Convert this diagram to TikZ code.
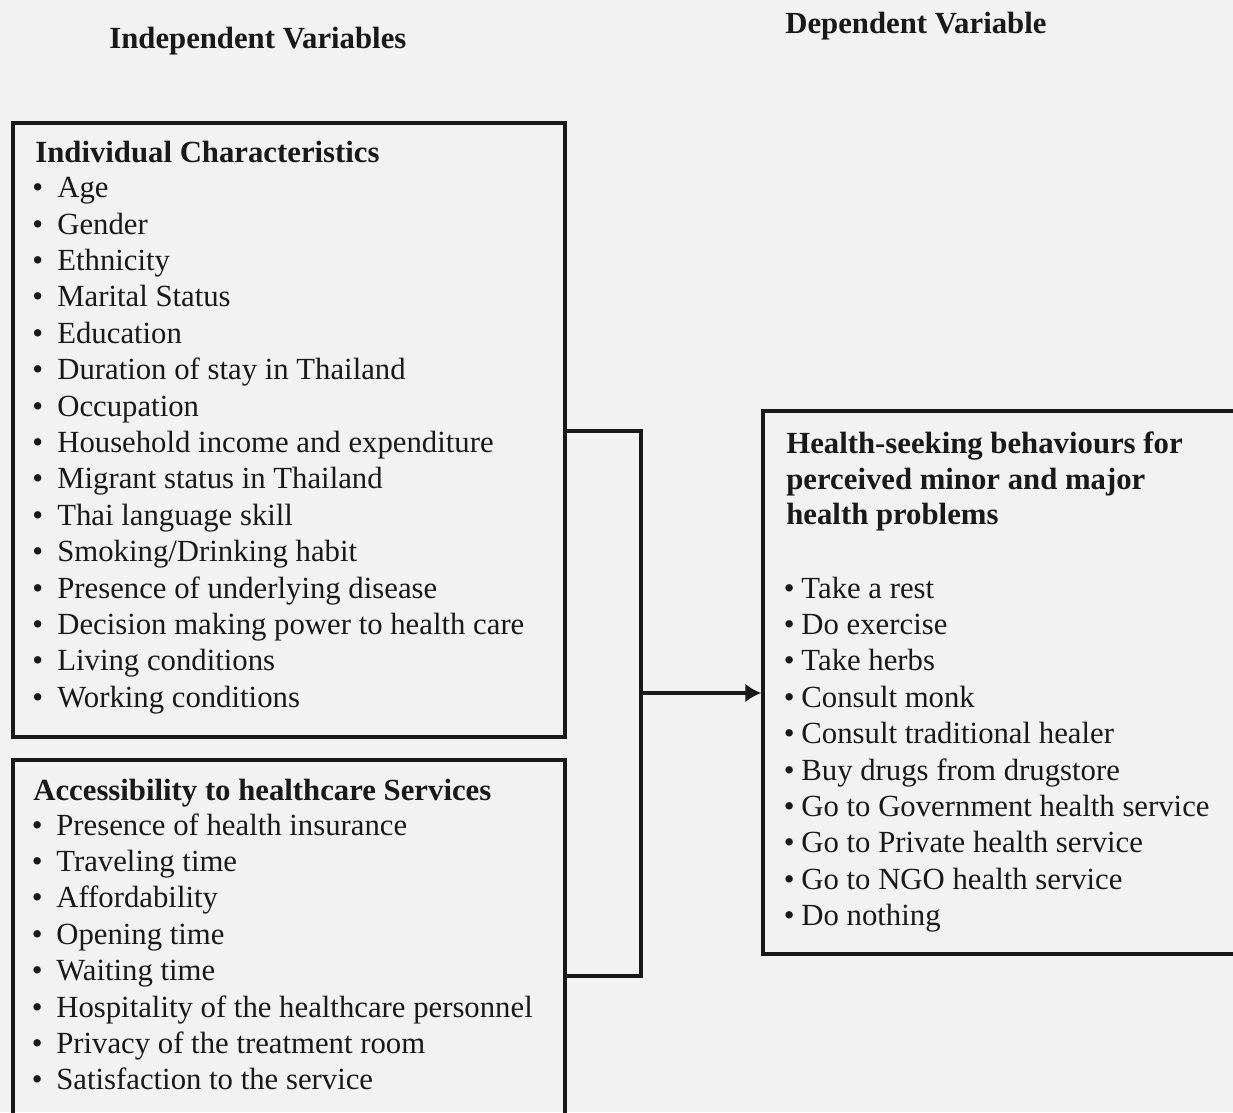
\documentclass[tikz,border=0pt]{standalone}
\usepackage{fontspec}
\setmainfont{Liberation Serif}
\usetikzlibrary{positioning,fit,arrows.meta}

\newcommand\itembul[1][0.5cm]{\makebox[#1][l]{\textbullet}}

\tikzset{
    box/.style={draw=black!90,line width=2pt,inner sep=0pt},
    wire/.style={draw=black!90,line width=2pt},
    txt/.style={inner sep=0pt,anchor=base west,text=black!90,font=\fontsize{17.5}{21}\selectfont},
    head/.style={txt,font=\fontsize{17.5}{21}\selectfont\bfseries}
}

\begin{document}
\begin{tikzpicture}[x=0.02cm,y=-0.02cm]
    \path[use as bounding box,fill=black!5] (0,0) rectangle (1233,1112);
    \clip (0,0) rectangle (1233,1112);

    \node[head] (indep) at (109,48) {Independent Variables};
    \node[head] (dep) at (785,33) {Dependent Variable};

    \node[box,fit={(13,123) (565,737)}] (indiv) {};
    \node[box,fit={(13,760) (565,1140)}] (access) {};
    \node[box,fit={(763,411) (1250,954)}] (hsb) {};

    \node[head] (indiv-h) at (35,162.7) {Individual Characteristics};
    \foreach \t [count=\i] in {Age,Gender,Ethnicity,Marital Status,Education,
        Duration of stay in Thailand,Occupation,Household income and expenditure,
        Migrant status in Thailand,Thai language skill,Smoking/Drinking habit,
        Presence of underlying disease,Decision making power to health care,
        Living conditions,Working conditions} {
        \node[txt] (indiv-\i) at (32,{197.7+36.4*(\i-1)}) {\itembul\t};
    }

    \node[head] (access-h) at (33,800) {Accessibility to healthcare Services};
    \foreach \t [count=\i] in {Presence of health insurance,Traveling time,
        Affordability,Opening time,Waiting time,Hospitality of the healthcare personnel,
        Privacy of the treatment room,Satisfaction to the service} {
        \node[txt] (access-\i) at (31.5,{835+36.4*(\i-1)}) {\itembul[0.49cm]\t};
    }

    \foreach \t [count=\i] in {Health-seeking behaviours for,perceived minor and major,
        health problems} {
        \node[head] (hsb-h\i) at (786,{453.7+35.3*(\i-1)}) {\t};
    }
    \foreach \t [count=\i] in {Take a rest,Do exercise,Take herbs,Consult monk,
        Consult traditional healer,Buy drugs from drugstore,Go to Government health service,
        Go to Private health service,Go to NGO health service,Do nothing} {
        \node[txt] (hsb-\i) at (783.6,{598+36.4*(\i-1)}) {\itembul[0.35cm]\t};
    }

    \coordinate (bus-top) at (641,431);
    \coordinate (bus-mid) at (641,693);
    \coordinate (bus-bot) at (641,976);
    \draw[wire] (indiv.east |- bus-top) -- (bus-top) -- (bus-bot) -- (access.east |- bus-bot);
    \draw[wire,-{Latex[length=3.2mm,width=3.8mm]}] (bus-mid) -- (hsb.west |- bus-mid);
\end{tikzpicture}
\end{document}
